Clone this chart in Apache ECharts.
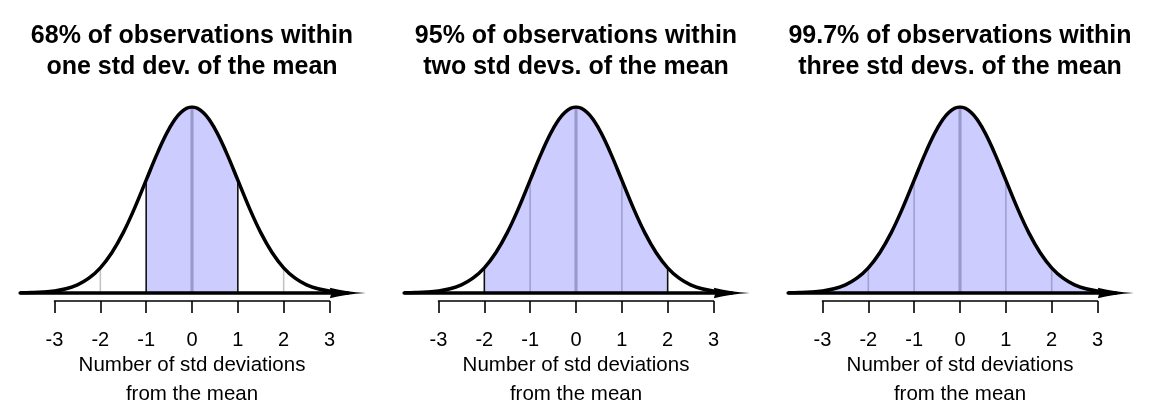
<!DOCTYPE html>
<html>
<head>
<meta charset="utf-8">
<script src="https://cdn.jsdelivr.net/npm/echarts@6/dist/echarts.min.js"></script>
<style>html,body{margin:0;padding:0;background:#fff;}#c{width:1152px;height:403px;}</style>
</head>
<body>
<div id="c"></div>
<script>
// ---- data ----
var xs = [-3.75,-3.5,-3.25,-3,-2.75,-2.5,-2.25,-2,-1.75,-1.5,-1.25,-1,-0.75,-0.5,-0.25,0,
          0.25,0.5,0.75,1,1.25,1.5,1.75,2,2.25,2.5,2.75,3,3.25];
var density = [0.0004,0.0009,0.0020,0.0044,0.0091,0.0175,0.0317,0.0540,0.0863,0.1295,0.1826,0.2420,0.3011,0.3521,0.3867,0.3989,
               0.3867,0.3521,0.3011,0.2420,0.1826,0.1295,0.0863,0.0540,0.0317,0.0175,0.0091,0.0044,0.0020];
var tickValues = [-3,-2,-1,0,1,2,3];
var titles = [
  '68% of observations within\none std dev. of the mean',
  '95% of observations within\ntwo std devs. of the mean',
  '99.7% of observations within\nthree std devs. of the mean'
];
var shadeHalfWidth = [1, 2, 3];
// line style kind for each tick value, per panel: 0 outside, 1 boundary, 2 inside, 3 mean
var vlineKinds = [
  [0,0,1,3,1,0,0],
  [0,1,2,3,2,1,0],
  [1,2,2,3,2,2,1]
];
var axisName = 'Number of std deviations\nfrom the mean';

// ---- styling ----
var FONT = 'Liberation Sans, Arial, Helvetica, sans-serif';
var kindStyle = [
  {stroke: '#c4c4c4', lineWidth: 1.6},
  {stroke: '#111111', lineWidth: 1.6},
  {stroke: '#a0a0d2', lineWidth: 1.6},
  {stroke: '#9a9acb', lineWidth: 3.2}
];
var PX = 45.83;           // px per std dev
var centers = [192, 576, 960];
var XMIN = -3.75, XMAX = 3.4;

var curve = xs.map(function (x, i) { return [x, density[i]]; });
function densAt(v) { return density[xs.indexOf(v)]; }

var option = {
  backgroundColor: '#ffffff',
  animation: false,
  title: [], grid: [], xAxis: [], yAxis: [], series: []
};

centers.forEach(function (c, p) {
  option.title.push({
    text: titles[p], left: c, top: 21, textAlign: 'center', padding: 0,
    textStyle: {fontFamily: FONT, fontSize: 25, fontWeight: 'bold', lineHeight: 31, color: '#000'}
  });
  option.grid.push({left: c + XMIN * PX, width: (XMAX - XMIN) * PX, top: 107, height: 186,
                    outerBoundsMode: 'none', containLabel: false});
  option.grid.push({left: c - 3 * PX, width: 6 * PX, top: 295, height: 6,
                    outerBoundsMode: 'none', containLabel: false});
  var g1 = p * 2, g2 = p * 2 + 1;
  option.xAxis.push({
    gridIndex: g1, type: 'value', min: XMIN, max: XMAX, z: 10,
    axisLine: {show: true, onZero: false, lineStyle: {color: '#000', width: 3.5},
      symbol: ['none', 'path://M5,0 Q6.2,20 10,34 L5,32.5 L0,34 Q3.8,20 5,0 Z'], symbolSize: [12, 36]},
    axisTick: {show: false}, axisLabel: {show: false}, splitLine: {show: false}
  });
  option.xAxis.push({
    gridIndex: g2, type: 'value', min: -3, max: 3, interval: 1,
    axisLine: {show: true, onZero: false, lineStyle: {color: '#000', width: 1.6}},
    axisTick: {show: true, length: 12, lineStyle: {color: '#000', width: 1.6}},
    axisLabel: {show: true, margin: 39, verticalAlign: 'middle', fontFamily: FONT, fontSize: 20, color: '#000',
      formatter: function (v) { return String(v); }},
    splitLine: {show: false},
    name: axisName, nameLocation: 'middle', nameGap: 79,
    nameTextStyle: {fontFamily: FONT, fontSize: 20.5, lineHeight: 29, color: '#000', verticalAlign: 'middle', align: 'center'}
  });
  option.yAxis.push({gridIndex: g1, type: 'value', min: 0, max: 0.3989, show: false});
  option.yAxis.push({gridIndex: g2, type: 'value', min: 0, max: 1, show: false});

  var k = shadeHalfWidth[p];
  var shade = curve.filter(function (d) { return d[0] >= -k && d[0] <= k; });
  option.series.push({
    type: 'line', xAxisIndex: g1, yAxisIndex: g1, data: shade, smooth: 0.4,
    symbol: 'none', z: 2, lineStyle: {width: 0, opacity: 0},
    areaStyle: {color: '#ccccff', opacity: 1}, silent: true
  });
  var vl = tickValues.map(function (v, i) { return [v, densAt(v), vlineKinds[p][i]]; });
  option.series.push({
    type: 'custom', xAxisIndex: g1, yAxisIndex: g1, data: vl, z: 3, silent: true,
    renderItem: function (params, api) {
      var x = api.value(0), t = api.value(1), kind = api.value(2);
      var a = api.coord([x, 0]), b = api.coord([x, t]);
      return {type: 'line', shape: {x1: a[0], y1: a[1], x2: b[0], y2: b[1]}, style: kindStyle[kind]};
    }
  });
  option.series.push({
    type: 'line', xAxisIndex: g1, yAxisIndex: g1, data: curve, smooth: 0.4,
    symbol: 'none', z: 4, silent: true, lineStyle: {color: '#000', width: 3.5}
  });
});

var chart = echarts.init(document.getElementById('c'), null, {renderer: 'canvas'});
chart.setOption(option);
</script>
</body>
</html>
